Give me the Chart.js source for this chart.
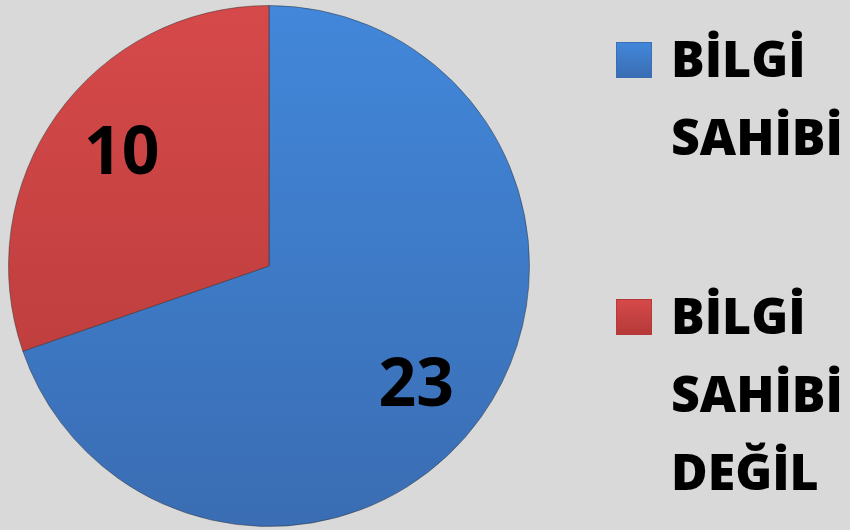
<!DOCTYPE html>
<html>
<head>
<meta charset="utf-8">
<script src="https://cdn.jsdelivr.net/npm/chart.js@4"></script>
<style>
  html, body { margin: 0; padding: 0; background: #d9d9d9; }
  #wrap { position: relative; width: 850px; height: 530px; overflow: hidden; }
  #pie { position: absolute; left: 0; top: 0; width: 538px; height: 530px; }
  .item { position: absolute; left: 616px; }
  .box { position: absolute; left: 0; width: 36px; height: 36px; box-sizing: border-box; }
  .txt {
    position: absolute; left: 55px; white-space: nowrap;
    font-family: "Open Sans", sans-serif; font-weight: 800; font-size: 50px;
    line-height: 78px; letter-spacing: 0px; color: #000;
  }
</style>
</head>
<body>
<div id="wrap">
  <div id="pie"><canvas id="myChart" width="538" height="530"></canvas></div>
  <div id="legend"></div>
</div>
<script>
const categories = ["BİLGİ SAHİBİ", "BİLGİ SAHİBİ DEĞİL"];
const values = [23, 10];

const topColors = ["#4287da", "#d6494a"];
const bottomColors = ["#3a6db3", "#b53a39"];

function sliceFill(context) {
  const chart = context.chart;
  const area = chart.chartArea;
  if (!area) return topColors[context.dataIndex];
  const g = chart.ctx.createLinearGradient(0, area.top, 0, area.bottom);
  g.addColorStop(0, topColors[context.dataIndex]);
  g.addColorStop(1, bottomColors[context.dataIndex]);
  return g;
}

// numbers inside the slices
const sliceLabels = {
  id: "sliceLabels",
  afterDatasetsDraw(chart) {
    const ctx = chart.ctx;
    const meta = chart.getDatasetMeta(0);
    ctx.save();
    ctx.font = "bold 66px 'Open Sans', sans-serif";
    ctx.fillStyle = "#000";
    ctx.textAlign = "center";
    ctx.textBaseline = "middle";
    meta.data.forEach((arc, i) => {
      const p = arc.getProps(["x", "y", "startAngle", "endAngle", "outerRadius"], true);
      const mid = (p.startAngle + p.endAngle) / 2 + 0.05;
      const r = p.outerRadius * 0.72;
      ctx.fillText(String(values[i]), p.x + Math.cos(mid) * r, p.y + Math.sin(mid) * r + 5);
    });
    ctx.restore();
  },
};

const ctx = document.getElementById("myChart").getContext("2d");
const myChart = new Chart(ctx, {
  type: "pie",
  data: {
    labels: categories,
    datasets: [
      {
        data: values,
        backgroundColor: sliceFill,
        borderColor: "rgba(40, 40, 40, 0.45)",
        borderWidth: 1,
      },
    ],
  },
  options: {
    responsive: false,
    animation: false,
    layout: { padding: { top: 5, bottom: 3, left: 8, right: 8 } },
    plugins: {
      legend: { display: false },
      tooltip: { enabled: false },
    },
  },
  plugins: [sliceLabels],
});

// legend on the right, one line per word
const legendTops = [19, 276];
const legend = document.getElementById("legend");
categories.forEach((name, i) => {
  const item = document.createElement("div");
  item.className = "item";
  item.style.top = legendTops[i] + "px";
  const box = document.createElement("div");
  box.className = "box";
  box.style.top = "23px";
  box.style.background = `linear-gradient(${topColors[i]}, ${bottomColors[i]})`;
  box.style.border = "1px solid " + bottomColors[i];
  const txt = document.createElement("div");
  txt.className = "txt";
  txt.style.top = "0px";
  txt.innerHTML = name.split(" ").join("<br>");
  item.appendChild(box);
  item.appendChild(txt);
  legend.appendChild(item);
});
</script>
</body>
</html>
